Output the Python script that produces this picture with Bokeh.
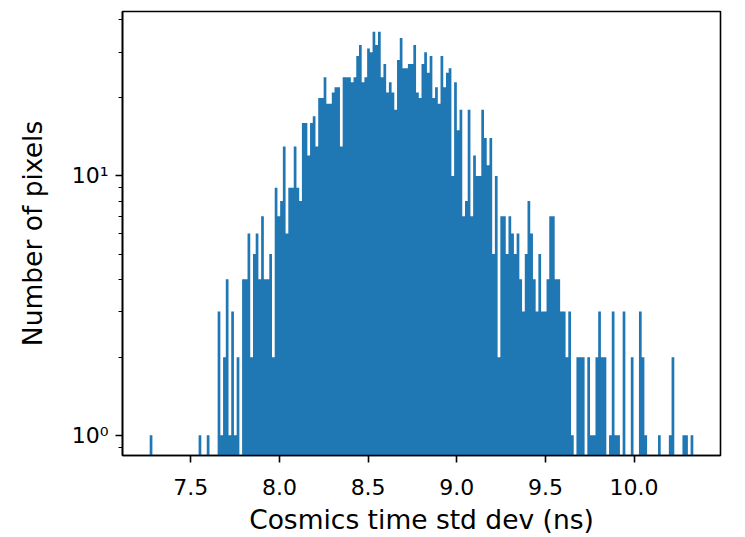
import numpy as np
from bokeh.plotting import figure
from bokeh.models import ColumnDataSource, FixedTicker, Range1d
from bokeh.embed import file_html
from bokeh.resources import INLINE

# ---- data (200 bins) ----
x_min = 7.268
x_max = 10.334
n_bins = 200
counts = [
    1, 0, 0, 0, 0, 0, 0, 0, 0, 0, 0, 0, 0, 0, 0, 0, 0, 0, 1, 0,
    0, 1, 0, 0, 0, 3, 1, 2, 4, 1, 3, 1, 2, 0, 4, 4, 6, 2, 5, 6,
    4, 7, 4, 4, 5, 2, 9, 7, 8, 13, 6, 9, 9, 13, 9, 8, 16, 16, 12, 16,
    17, 13, 20, 20, 24, 19, 19, 21, 22, 22, 13, 24, 24, 24, 23, 24, 29, 32, 23, 24,
    31, 30, 36, 32, 36, 24, 27, 21, 23, 21, 18, 28, 34, 26, 26, 27, 27, 32, 21, 20,
    27, 30, 25, 29, 20, 22, 19, 29, 22, 25, 26, 10, 23, 15, 18, 7, 8, 18, 7, 12,
    10, 10, 18, 14, 11, 14, 5, 10, 2, 7, 7, 5, 7, 6, 5, 6, 4, 3, 5, 8,
    6, 4, 3, 5, 3, 3, 4, 7, 7, 4, 4, 3, 3, 2, 3, 1, 0, 2, 2, 2,
    0, 2, 1, 1, 2, 3, 2, 2, 0, 1, 3, 1, 1, 0, 3, 0, 0, 2, 0, 0,
    3, 2, 1, 0, 0, 0, 0, 1, 0, 0, 0, 1, 2, 0, 0, 0, 1, 1, 0, 1,
]
x_ticks = [7.5, 8.0, 8.5, 9.0, 9.5, 10.0]
x_tick_labels = ["7.5", "8.0", "8.5", "9.0", "9.5", "10.0"]
y_ticks = [1, 10]
y_tick_labels = ["10\u2070", "10\u00b9"]
y_minor_ticks = [0.9, 2, 3, 4, 5, 6, 7, 8, 9, 20, 30, 40]
x_label = "Cosmics time std dev (ns)"
y_label = "Number of pixels"

# ---- build histogram as a seamless step area ----
edges = np.linspace(x_min, x_max, n_bins + 1)
c = np.array(counts, dtype=float)
# empty bins drop far below the visible log range
tops = np.where(c > 0, c, 1e-3)
tops = np.append(tops, tops[-1])
src = ColumnDataSource(dict(
    x=edges,
    y1=np.full(edges.size, 1e-3),
    y2=tops,
))

# matplotlib-like margins (5% of data span)
span = x_max - x_min
lmin, lmax = 0.0, np.log10(c.max())
lspan = lmax - lmin

p = figure(
    output_backend="svg", toolbar_location=None,
    y_axis_type="log",
    x_range=Range1d(x_min - 0.05 * span, x_max + 0.05 * span),
    y_range=Range1d(10 ** (lmin - 0.05 * lspan), 10 ** (lmax + 0.05 * lspan)),
    width=745, height=537,
    min_border_left=122, min_border_right=25, min_border_top=11, min_border_bottom=82,
    background_fill_color="white", border_fill_color="white",
)
p.varea_step(x="x", y1="y1", y2="y2", source=src, step_mode="after",
             fill_color="#1f77b4")

p.xgrid.visible = False
p.ygrid.visible = False
p.outline_line_color = "black"
p.outline_line_width = 1.6
p.outline_line_alpha = 1.0

p.xaxis.ticker = FixedTicker(ticks=x_ticks, minor_ticks=[])
p.xaxis.major_label_overrides = {t: l for t, l in zip(x_ticks, x_tick_labels)}
p.yaxis.ticker = FixedTicker(ticks=y_ticks, minor_ticks=y_minor_ticks)
p.yaxis.major_label_overrides = {t: l for t, l in zip(y_ticks, y_tick_labels)}

for ax in (p.xaxis[0], p.yaxis[0]):
    ax.axis_line_color = "black"
    ax.axis_line_width = 1.6
    ax.major_tick_line_color = "black"
    ax.major_tick_line_width = 1.6
    ax.minor_tick_line_color = "black"
    ax.minor_tick_line_width = 1.2
    ax.major_tick_in = 0
    ax.major_tick_out = 7
    ax.minor_tick_in = 0
    ax.minor_tick_out = 4
    ax.major_label_text_font = "DejaVu Sans"
    ax.major_label_text_font_size = "22px"
    ax.major_label_text_color = "black"
    ax.axis_label_text_font = "DejaVu Sans"
    ax.axis_label_text_font_size = "26.5px"
    ax.axis_label_text_font_style = "normal"
    ax.axis_label_text_color = "black"

p.xaxis.major_label_standoff = 16
p.xaxis.axis_label_standoff = 6
p.yaxis.major_label_standoff = 7
p.yaxis.axis_label_standoff = 21

p.xaxis.axis_label = x_label
p.yaxis.axis_label = y_label

with open("out.html", "w") as f:
    f.write(file_html(p, INLINE))
